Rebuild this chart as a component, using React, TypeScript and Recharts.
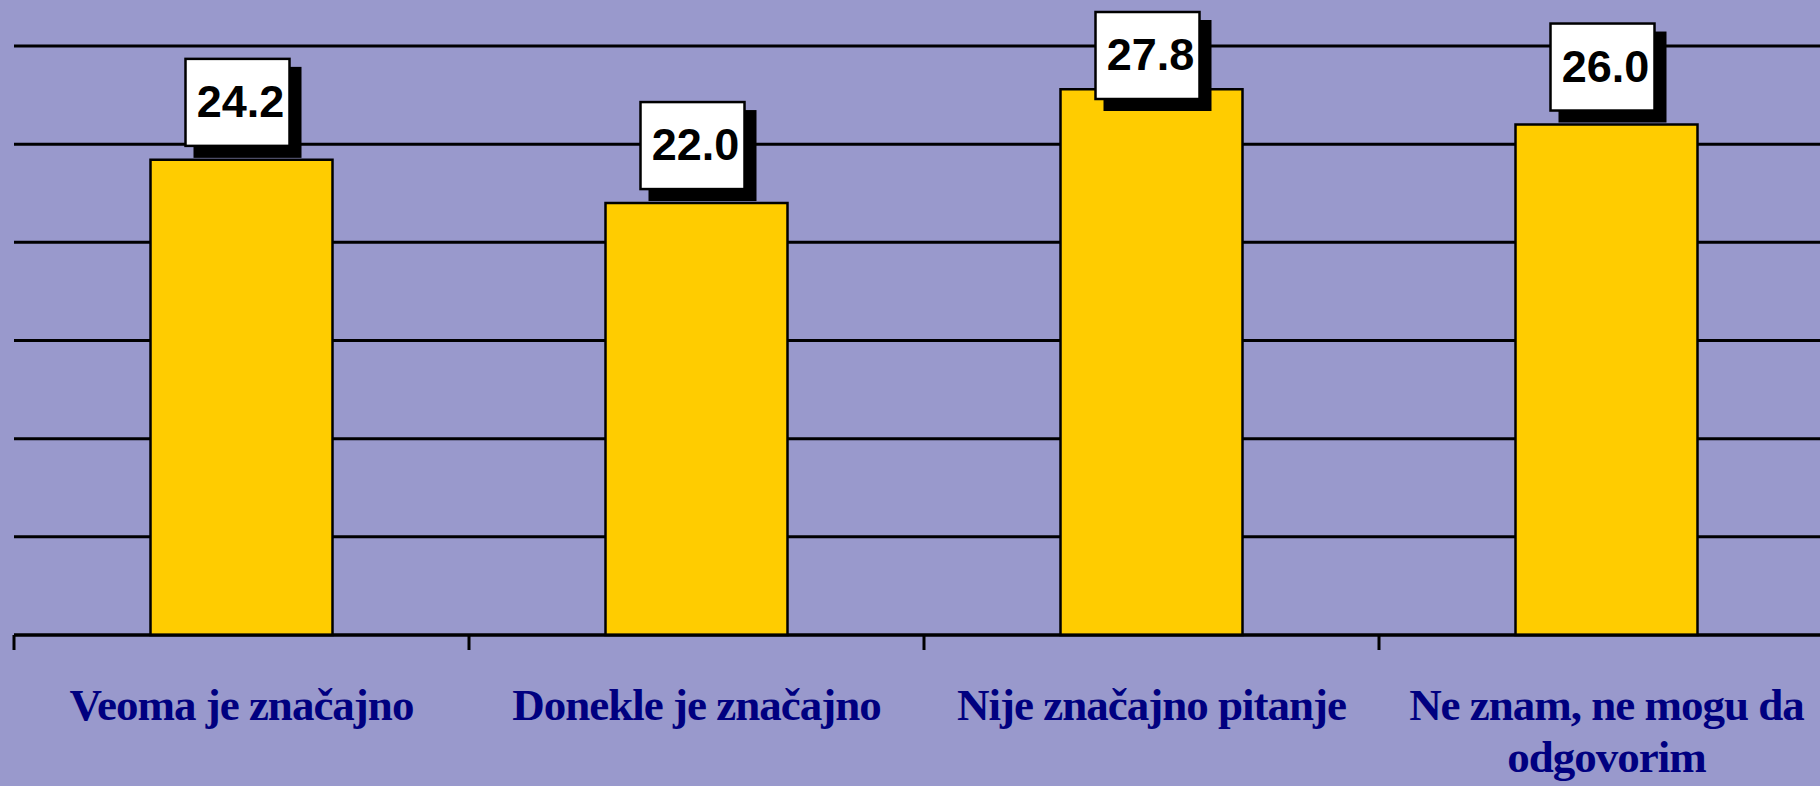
import { BarChart, Bar, XAxis, YAxis, CartesianGrid, LabelList } from "recharts";

// survey answers and their shares (%)
const categories = [
  "Veoma je značajno",
  "Donekle je značajno",
  "Nije značajno pitanje",
  "Ne znam, ne mogu da odgovorim",
];
const values = [24.2, 22.0, 27.8, 26.0];
const yTicks = [0, 5, 10, 15, 20, 25, 30];

const data = categories.map((name, i) => ({ name, value: values[i] }));

const BG = "#9999CC";
const BAR = "#FFCC00";
const NAVY = "#000080";
const LABEL_FONT = "bold 45px 'Liberation Serif'";

// greedy word wrap measured with a canvas
let ctx: CanvasRenderingContext2D | null = null;
const wrap = (text: string, maxWidth: number) => {
  if (!ctx) ctx = document.createElement("canvas").getContext("2d");
  if (ctx) ctx.font = LABEL_FONT;
  const measure = (s: string) => (ctx ? ctx.measureText(s).width - s.length : s.length * 20);
  const lines: string[] = [];
  let cur = "";
  text.split(" ").forEach((word) => {
    const next = cur ? cur + " " + word : word;
    if (cur && measure(next) > maxWidth) {
      lines.push(cur);
      cur = word;
    } else {
      cur = next;
    }
  });
  if (cur) lines.push(cur);
  return lines;
};

// boundary ticks + wrapped serif label under each category
const CategoryTick = (props: any) => {
  const { x, y, payload } = props;
  const half = payload?.offset ?? 227.5;
  const lines = wrap(String(payload.value), 420);
  return (
    <g>
      <line x1={x - half} y1={y} x2={x - half} y2={y + 15} stroke="#000" strokeWidth={3} />
      <text
        textAnchor="middle"
        fill={NAVY}
        fontSize={45}
        fontWeight="bold"
        fontFamily="'Liberation Serif', 'Times New Roman', serif"
        letterSpacing={-1}
      >
        {lines.map((line, i) => (
          <tspan key={i} x={x} y={y + 85 + i * 52}>
            {line}
          </tspan>
        ))}
      </text>
    </g>
  );
};

// white value box with a black drop shadow, kept inside the top of the chart
const ValueBox = (props: any) => {
  const { x, y, width, value } = props;
  const w = 104;
  const h = 87;
  const bx = x + width / 2 - 4 - w / 2;
  const by = Math.max(y - 14 - h, 12);
  return (
    <g>
      <rect x={bx + 8} y={by + 8} width={w + 4} height={h + 4} fill="#000" />
      <rect x={bx} y={by} width={w} height={h} fill="#fff" stroke="#000" strokeWidth={2.5} />
      <text
        x={bx + w / 2 + 3}
        y={by + 58}
        textAnchor="middle"
        fontFamily="'Liberation Sans', Arial, sans-serif"
        fontWeight="bold"
        fontSize={45}
        fill="#000"
      >
        {Number(value).toFixed(1)}
      </text>
    </g>
  );
};

export default function App() {
  return (
    <div
      style={{
        position: "absolute",
        left: 0,
        top: 0,
        width: 1820,
        height: 786,
        overflow: "hidden",
        background: BG,
      }}
    >
      <BarChart
        width={1834}
        height={786}
        data={data}
        margin={{ top: 46, right: 0, bottom: 0, left: 14 }}
        barCategoryGap="30%"
      >
        <CartesianGrid horizontal vertical={false} stroke="#000" strokeWidth={3} />
        <YAxis hide domain={[0, 30]} ticks={yTicks} />
        <XAxis
          dataKey="name"
          height={151}
          interval={0}
          tickLine={false}
          tickSize={0}
          tickMargin={0}
          axisLine={{ stroke: "#000", strokeWidth: 3 }}
          tick={<CategoryTick />}
        />
        <Bar dataKey="value" fill={BAR} stroke="#000" strokeWidth={2.5} isAnimationActive={false}>
          <LabelList dataKey="value" content={<ValueBox />} />
        </Bar>
      </BarChart>
    </div>
  );
}
